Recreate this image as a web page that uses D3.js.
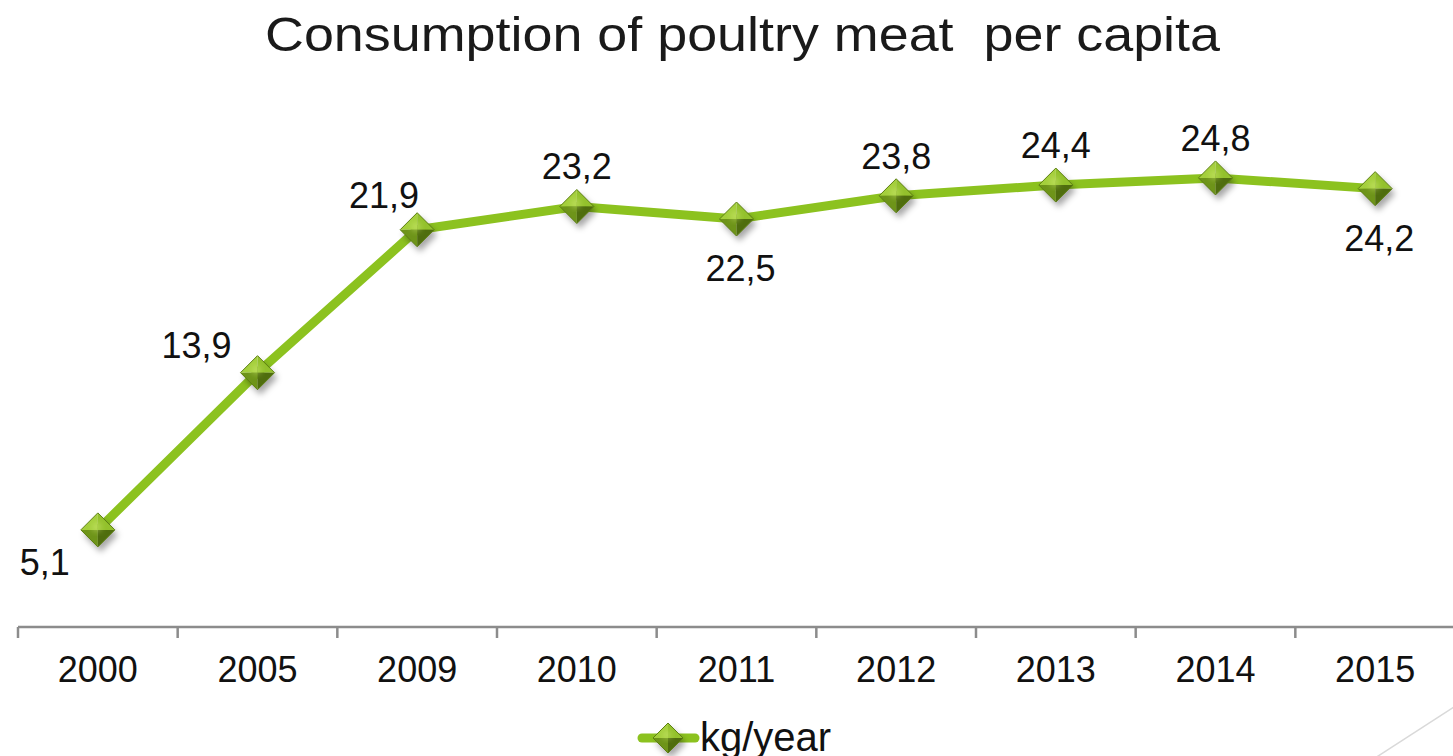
<!DOCTYPE html>
<html>
<head>
<meta charset="utf-8">
<script src="https://cdn.jsdelivr.net/npm/d3@7"></script>
<style>
  body { margin: 0; background: #fff; }
  svg { display: block; font-family: "Liberation Sans", "DejaVu Sans", sans-serif; }
</style>
</head>
<body>
<svg id="chart"></svg>
<script>
const years = ["2000", "2005", "2009", "2010", "2011", "2012", "2013", "2014", "2015"];
const values = [5.1, 13.9, 21.9, 23.2, 22.5, 23.8, 24.4, 24.8, 24.2];
const labelSide = ["belowLeft", "left", "aboveLeft", "above", "below", "above", "above", "above", "below"];
const seriesName = "kg/year";
const title = "Consumption of poultry meat\u00a0 per capita";

const width = 1453;
const height = 756;
const margin = { left: 18, right: -2 };

const svg = d3.select("#chart")
    .attr("width", width)
    .attr("height", height);

// slide decoration bottom right
svg.append("line")
    .attr("x1", 1372).attr("y1", 760)
    .attr("x2", 1460).attr("y2", 703)
    .attr("stroke", "#d9d9d9").attr("stroke-width", 1.5);

svg.append("text")
    .attr("x", 265)
    .attr("y", 51)
    .attr("font-size", 48)
    .attr("textLength", 955)
    .attr("lengthAdjust", "spacingAndGlyphs")
    .attr("fill", "#1a1a1a")
    .text(title);

const xScale = d3.scaleBand()
    .domain(years)
    .range([margin.left, width - margin.right]);

const yScale = d3.scaleLinear()
    .domain([0, 30])
    .range([621, 85]);

const xAxis = svg.append("g")
    .attr("transform", "translate(0, 627)")
    .call(d3.axisBottom(xScale).tickSize(0));

xAxis.select(".domain").remove();
xAxis.selectAll("text")
    .attr("font-size", 36)
    .attr("font-family", "Liberation Sans, sans-serif")
    .attr("dy", null)
    .attr("y", 55)
    .attr("fill", "#111");

xAxis.append("line")
    .attr("x1", margin.left).attr("x2", width)
    .attr("stroke", "#8c8c8c").attr("stroke-width", 2.5);

xAxis.selectAll(".bound")
    .data(years)
    .enter()
    .append("line")
    .attr("x1", d => xScale(d))
    .attr("x2", d => xScale(d))
    .attr("y1", 0).attr("y2", 11)
    .attr("stroke", "#8c8c8c").attr("stroke-width", 2.5);

const cx = d => xScale(d) + xScale.bandwidth() / 2;

const line = d3.line()
    .x((d, i) => cx(years[i]))
    .y(d => yScale(d));

svg.append("path")
    .datum(values)
    .attr("d", line)
    .attr("fill", "none")
    .attr("stroke", "#8cc21f")
    .attr("stroke-width", 9)
    .attr("stroke-linejoin", "round");

const defs = svg.append("defs");
const blur = defs.append("filter").attr("id", "shadow").attr("x", "-50%").attr("y", "-50%").attr("width", "200%").attr("height", "200%");
blur.append("feGaussianBlur").attr("stdDeviation", 3);

function marker(g, s) {
    g.append("path")
        .attr("d", `M0,${-s}L${s},0L0,${s}L${-s},0Z`)
        .attr("transform", "translate(3,5)")
        .attr("fill", "rgba(0,0,0,0.35)")
        .attr("filter", "url(#shadow)");
    const facets = [
        [`M0,0L${-s},0L0,${-s}Z`, "#a4cf3c"],
        [`M0,0L0,${-s}L${s},0Z`, "#93c12c"],
        [`M0,0L${s},0L0,${s}Z`, "#4f6d0e"],
        [`M0,0L0,${s}L${-s},0Z`, "#6e9419"]
    ];
    facets.forEach(f => {
        g.append("path").attr("d", f[0]).attr("fill", f[1]);
    });
    g.append("circle").attr("cx", -1).attr("cy", -3).attr("r", s * 0.25)
        .attr("fill", "#d4ec7a").attr("opacity", 0.6).attr("filter", "url(#shadow)");
    g.append("path")
        .attr("d", `M0,${-s}L${s},0L0,${s}L${-s},0Z`)
        .attr("fill", "none")
        .attr("stroke", "#5d8012")
        .attr("stroke-width", 1);
}

svg.selectAll(".pt")
    .data(values)
    .enter()
    .append("g")
    .attr("class", "pt")
    .attr("transform", (d, i) => `translate(${cx(years[i])}, ${yScale(d)})`)
    .each(function () { marker(d3.select(this), 17); });

const fmt = v => String(v.toFixed(1)).replace(".", ",");

// label placement relative to point: [dx, dy, anchor]
const placement = {
    belowLeft: [-28, 45, "end"],
    left: [-26, -15, "end"],
    aboveLeft: [2, -22, "end"],
    above: [0, -27, "middle"],
    below: [4, 62, "middle"]
};

svg.selectAll(".lbl")
    .data(values)
    .enter()
    .append("text")
    .attr("class", "lbl")
    .attr("font-size", 36)
    .attr("fill", "#111")
    .attr("text-anchor", (d, i) => placement[labelSide[i]][2])
    .attr("x", (d, i) => cx(years[i]) + placement[labelSide[i]][0])
    .attr("y", (d, i) => yScale(d) + placement[labelSide[i]][1])
    .text(fmt);

// legend
const legend = svg.append("g").attr("transform", "translate(640, 738)");
legend.append("line")
    .attr("x1", 2).attr("x2", 55)
    .attr("stroke", "#8cc21f").attr("stroke-width", 9)
    .attr("stroke-linecap", "round");
legend.append("g").attr("transform", "translate(28, 0)").call(g => marker(g, 15));
legend.append("text")
    .attr("x", 60).attr("y", 13)
    .attr("font-size", 40)
    .attr("fill", "#111")
    .text(seriesName);
</script>
</body>
</html>
